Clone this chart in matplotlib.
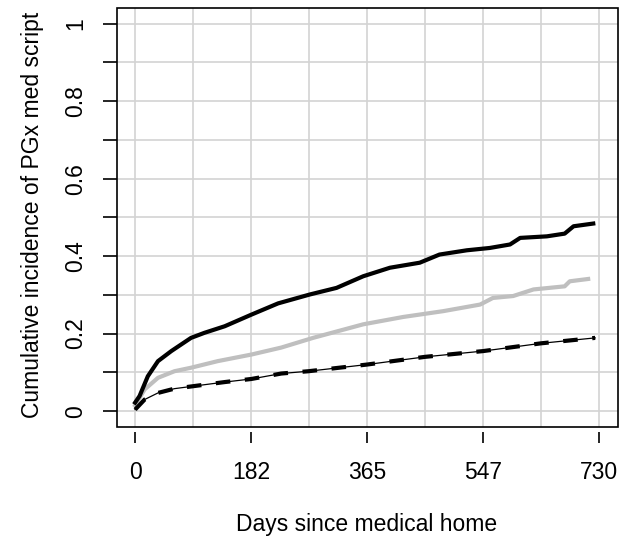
import matplotlib
matplotlib.use("Agg")
import matplotlib.pyplot as plt
from matplotlib.patches import Rectangle
import numpy as np

plt.rcParams['font.family'] = ['Liberation Sans', 'DejaVu Sans']

# cumulative incidence curves (days, value)
days_top = [0, 7, 20, 36, 57, 88, 109, 141, 183, 225, 275, 317, 359, 401, 448,
            479, 522, 558, 590, 606, 648, 676, 690, 721]
inc_top = [0.022, 0.039, 0.090, 0.129, 0.155, 0.189, 0.202, 0.219, 0.249, 0.278,
           0.301, 0.318, 0.348, 0.370, 0.383, 0.404, 0.415, 0.421, 0.430, 0.447,
           0.451, 0.458, 0.477, 0.484]

days_gray = [0, 15, 36, 62, 88, 130, 183, 230, 280, 359, 422, 485, 543, 563, 595,
             627, 676, 684, 713]
inc_gray = [0.015, 0.056, 0.086, 0.103, 0.112, 0.129, 0.146, 0.164, 0.189, 0.224,
            0.243, 0.258, 0.275, 0.292, 0.297, 0.314, 0.322, 0.335, 0.341]

days_dash = [0, 15, 36, 62, 99, 141, 183, 230, 273, 364, 456, 548, 639, 724]
inc_dash = [0.004, 0.030, 0.047, 0.058, 0.066, 0.075, 0.083, 0.097, 0.103, 0.120,
            0.140, 0.155, 0.175, 0.189]

xticks = [0, 182.5, 365, 547.5, 730]
xtick_labels = ['0', '182', '365', '547', '730']
yticks = [0, 0.2, 0.4, 0.6, 0.8, 1.0]
ytick_labels = ['0', '0.2', '0.4', '0.6', '0.8', '1']

fig = plt.figure(figsize=(6.2, 5.38), dpi=100)
ax = fig.add_axes([0.188, 0.207, 0.808, 0.778])

ax.set_xlim(-29.2, 759.2)
ax.set_ylim(-0.04, 1.04)

# grid
for gx in np.arange(0, 731, 91.25):
    ax.axvline(gx, color='#d3d3d3', lw=1.2, zorder=0)
for gy in np.arange(0, 1.01, 0.1):
    ax.axhline(gy, color='#d3d3d3', lw=1.2, zorder=0)

ax.plot(days_top, inc_top, color='black', lw=3, zorder=3)
ax.plot(days_gray, inc_gray, color='#bfbfbf', lw=3, zorder=2)
ax.plot(days_dash, inc_dash, color='black', lw=0.9, zorder=3)
ax.plot(days_dash, inc_dash, color='black', lw=3, dashes=(3.5, 3.5), zorder=3)

# axes styling in base-R manner
for s in ax.spines.values():
    s.set_visible(False)
ax.spines['bottom'].set_position(('outward', 4))
ax.add_patch(Rectangle((0, 0), 1, 1, transform=ax.transAxes, fill=False,
                       lw=1.2, ec='black', clip_on=False, zorder=5))

ax.set_xticks(xticks)
ax.set_xticklabels(xtick_labels)
ax.set_yticks(np.arange(0, 1.01, 0.1), minor=True)
ax.set_yticks(yticks)
ax.set_yticklabels(ytick_labels, rotation=90, va='center')
ax.tick_params(axis='x', length=8, width=1.2, labelsize=16.5, pad=13)
ax.tick_params(axis='y', which='both', length=10, width=1.2, labelsize=16.5, pad=11)

fig.text(367 / 620, 1 - 524 / 538, 'Days since medical home', fontsize=16.5,
         ha='center', va='center')
fig.text(33 / 620, 1 - 215 / 538, 'Cumulative incidence of PGx med script',
         fontsize=16.5, rotation=90, ha='center', va='center')

fig.savefig('out.png', dpi=100)
